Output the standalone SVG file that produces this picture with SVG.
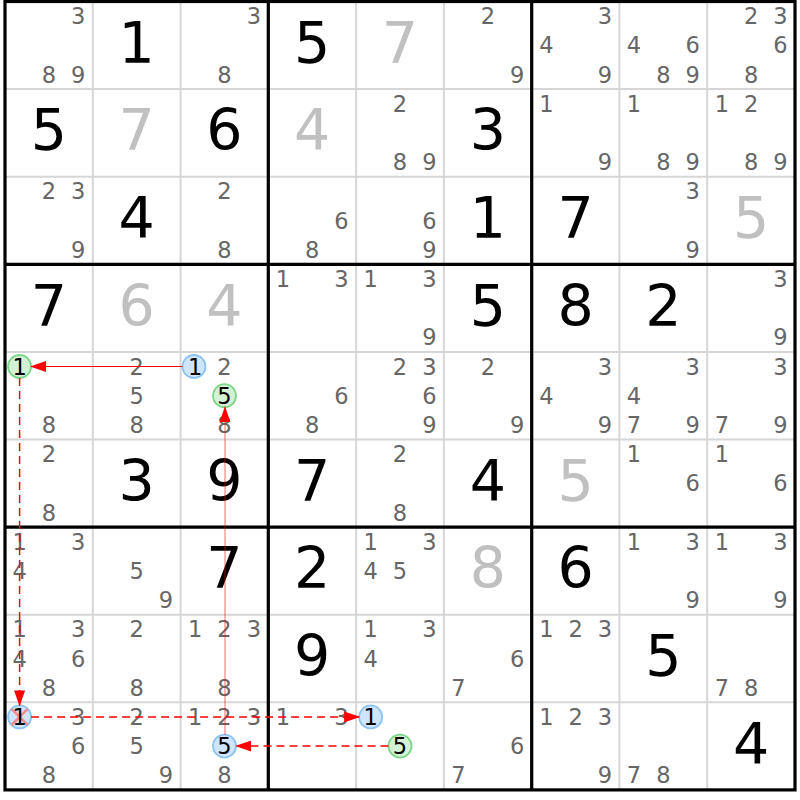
<svg xmlns="http://www.w3.org/2000/svg" width="800" height="800" viewBox="0 0 800 800">
<style>
text{font-family:"DejaVu Sans","Liberation Sans",sans-serif;text-anchor:middle}
.c{font-size:22.5px;fill:#666}
.k{font-size:22.5px;fill:#000}
.g{font-size:57px;fill:#000}
.s{font-size:57px;fill:#c0c0c0}
.thin{stroke:#d6d6d6;stroke-width:2}
.thick{stroke:#000;stroke-width:3.2}
.cb{fill:#cfe5fb;stroke:#8cc3f3;stroke-width:1.8}
.cg{fill:#d2f1d5;stroke:#7cd689;stroke-width:1.8}
.solid{stroke:#ff0000;stroke-width:1;fill:none}
.dash{stroke:#ff0000;stroke-width:1.5;stroke-dasharray:8 5;fill:none}
</style>
<defs>
<marker id="ah" markerUnits="userSpaceOnUse" markerWidth="16" markerHeight="11" refX="15" refY="5.5" orient="auto">
<path d="M0,0 L16,5.5 L0,11 z" fill="#ff0000"/>
</marker>
</defs>
<rect x="0" y="0" width="800" height="800" fill="#fff"/>
<g id="grid">
<g class="thin">
<line x1="92.8" y1="1.5" x2="92.8" y2="789.9"/>
<line x1="180.6" y1="1.5" x2="180.6" y2="789.9"/>
<line x1="356.1" y1="1.5" x2="356.1" y2="789.9"/>
<line x1="443.9" y1="1.5" x2="443.9" y2="789.9"/>
<line x1="619.4" y1="1.5" x2="619.4" y2="789.9"/>
<line x1="707.2" y1="1.5" x2="707.2" y2="789.9"/>
<line x1="5" y1="89.1" x2="795" y2="89.1"/>
<line x1="5" y1="176.7" x2="795" y2="176.7"/>
<line x1="5" y1="351.9" x2="795" y2="351.9"/>
<line x1="5" y1="439.5" x2="795" y2="439.5"/>
<line x1="5" y1="614.7" x2="795" y2="614.7"/>
<line x1="5" y1="702.3" x2="795" y2="702.3"/>
</g>
<g class="thick">
<line x1="268.3" y1="1.5" x2="268.3" y2="789.9"/>
<line x1="531.7" y1="1.5" x2="531.7" y2="789.9"/>
<line x1="5" y1="264.3" x2="795" y2="264.3"/>
<line x1="5" y1="527.1" x2="795" y2="527.1"/>
<rect x="5" y="1.5" width="790" height="788.4" fill="none"/>
</g>
</g>

<g id="row0">
<g id="r0c0"><text class="c" x="78.2" y="24.1">3</text><text class="c" x="48.9" y="82.5">8</text><text class="c" x="78.2" y="82.5">9</text></g>
<g id="r0c1"><text class="g" x="136.7" y="62.8">1</text></g>
<g id="r0c2"><text class="c" x="253.8" y="24.1">3</text><text class="c" x="224.5" y="82.5">8</text></g>
<g id="r0c3"><text class="g" x="312.2" y="62.8">5</text></g>
<g id="r0c4"><text class="s" x="400" y="62.8">7</text></g>
<g id="r0c5"><text class="c" x="487.8" y="24.1">2</text><text class="c" x="517.1" y="82.5">9</text></g>
<g id="r0c6"><text class="c" x="604.9" y="24.1">3</text><text class="c" x="546.3" y="53.3">4</text><text class="c" x="604.9" y="82.5">9</text></g>
<g id="r0c7"><text class="c" x="634" y="53.3">4</text><text class="c" x="692.6" y="53.3">6</text><text class="c" x="663.3" y="82.5">8</text><text class="c" x="692.6" y="82.5">9</text></g>
<g id="r0c8"><text class="c" x="751.1" y="24.1">2</text><text class="c" x="780.4" y="24.1">3</text><text class="c" x="780.4" y="53.3">6</text><text class="c" x="751.1" y="82.5">8</text></g>
</g>

<g id="row1">
<g id="r1c0"><text class="g" x="48.9" y="150.4">5</text></g>
<g id="r1c1"><text class="s" x="136.7" y="150.4">7</text></g>
<g id="r1c2"><text class="g" x="224.5" y="150.4">6</text></g>
<g id="r1c3"><text class="s" x="312.2" y="150.4">4</text></g>
<g id="r1c4"><text class="c" x="400" y="111.7">2</text><text class="c" x="400" y="170.1">8</text><text class="c" x="429.3" y="170.1">9</text></g>
<g id="r1c5"><text class="g" x="487.8" y="150.4">3</text></g>
<g id="r1c6"><text class="c" x="546.3" y="111.7">1</text><text class="c" x="604.9" y="170.1">9</text></g>
<g id="r1c7"><text class="c" x="634" y="111.7">1</text><text class="c" x="663.3" y="170.1">8</text><text class="c" x="692.6" y="170.1">9</text></g>
<g id="r1c8"><text class="c" x="721.8" y="111.7">1</text><text class="c" x="751.1" y="111.7">2</text><text class="c" x="751.1" y="170.1">8</text><text class="c" x="780.4" y="170.1">9</text></g>
</g>

<g id="row2">
<g id="r2c0"><text class="c" x="48.9" y="199.3">2</text><text class="c" x="78.2" y="199.3">3</text><text class="c" x="78.2" y="257.7">9</text></g>
<g id="r2c1"><text class="g" x="136.7" y="238">4</text></g>
<g id="r2c2"><text class="c" x="224.5" y="199.3">2</text><text class="c" x="224.5" y="257.7">8</text></g>
<g id="r2c3"><text class="c" x="341.5" y="228.5">6</text><text class="c" x="312.2" y="257.7">8</text></g>
<g id="r2c4"><text class="c" x="429.3" y="228.5">6</text><text class="c" x="429.3" y="257.7">9</text></g>
<g id="r2c5"><text class="g" x="487.8" y="238">1</text></g>
<g id="r2c6"><text class="g" x="575.6" y="238">7</text></g>
<g id="r2c7"><text class="c" x="692.6" y="199.3">3</text><text class="c" x="692.6" y="257.7">9</text></g>
<g id="r2c8"><text class="s" x="751.1" y="238">5</text></g>
</g>

<g id="row3">
<g id="r3c0"><text class="g" x="48.9" y="325.6">7</text></g>
<g id="r3c1"><text class="s" x="136.7" y="325.6">6</text></g>
<g id="r3c2"><text class="s" x="224.5" y="325.6">4</text></g>
<g id="r3c3"><text class="c" x="282.9" y="286.9">1</text><text class="c" x="341.5" y="286.9">3</text></g>
<g id="r3c4"><text class="c" x="370.7" y="286.9">1</text><text class="c" x="429.3" y="286.9">3</text><text class="c" x="429.3" y="345.3">9</text></g>
<g id="r3c5"><text class="g" x="487.8" y="325.6">5</text></g>
<g id="r3c6"><text class="g" x="575.6" y="325.6">8</text></g>
<g id="r3c7"><text class="g" x="663.3" y="325.6">2</text></g>
<g id="r3c8"><text class="c" x="780.4" y="286.9">3</text><text class="c" x="780.4" y="345.3">9</text></g>
</g>

<g id="row4">
<g id="r4c0"><circle class="cg" cx="19.6" cy="366.5" r="11.5"/><text class="k" x="19.6" y="374.5">1</text><text class="c" x="48.9" y="432.9">8</text></g>
<g id="r4c1"><text class="c" x="136.7" y="374.5">2</text><text class="c" x="136.7" y="403.7">5</text><text class="c" x="136.7" y="432.9">8</text></g>
<g id="r4c2"><circle class="cb" cx="194" cy="366.5" r="11.5"/><text class="k" x="195.2" y="374.5">1</text><text class="c" x="224.5" y="374.5">2</text><circle class="cg" cx="224.5" cy="395.7" r="11.5"/><text class="k" x="224.5" y="403.7">5</text><text class="c" x="224.5" y="432.9">8</text></g>
<g id="r4c3"><text class="c" x="341.5" y="403.7">6</text><text class="c" x="312.2" y="432.9">8</text></g>
<g id="r4c4"><text class="c" x="400" y="374.5">2</text><text class="c" x="429.3" y="374.5">3</text><text class="c" x="429.3" y="403.7">6</text><text class="c" x="429.3" y="432.9">9</text></g>
<g id="r4c5"><text class="c" x="487.8" y="374.5">2</text><text class="c" x="517.1" y="432.9">9</text></g>
<g id="r4c6"><text class="c" x="604.9" y="374.5">3</text><text class="c" x="546.3" y="403.7">4</text><text class="c" x="604.9" y="432.9">9</text></g>
<g id="r4c7"><text class="c" x="692.6" y="374.5">3</text><text class="c" x="634" y="403.7">4</text><text class="c" x="634" y="432.9">7</text><text class="c" x="692.6" y="432.9">9</text></g>
<g id="r4c8"><text class="c" x="780.4" y="374.5">3</text><text class="c" x="721.8" y="432.9">7</text><text class="c" x="780.4" y="432.9">9</text></g>
</g>

<g id="row5">
<g id="r5c0"><text class="c" x="48.9" y="462.1">2</text><text class="c" x="48.9" y="520.5">8</text></g>
<g id="r5c1"><text class="g" x="136.7" y="500.8">3</text></g>
<g id="r5c2"><text class="g" x="224.5" y="500.8">9</text></g>
<g id="r5c3"><text class="g" x="312.2" y="500.8">7</text></g>
<g id="r5c4"><text class="c" x="400" y="462.1">2</text><text class="c" x="400" y="520.5">8</text></g>
<g id="r5c5"><text class="g" x="487.8" y="500.8">4</text></g>
<g id="r5c6"><text class="s" x="575.6" y="500.8">5</text></g>
<g id="r5c7"><text class="c" x="634" y="462.1">1</text><text class="c" x="692.6" y="491.3">6</text></g>
<g id="r5c8"><text class="c" x="721.8" y="462.1">1</text><text class="c" x="780.4" y="491.3">6</text></g>
</g>

<g id="row6">
<g id="r6c0"><text class="c" x="19.6" y="549.7">1</text><text class="c" x="78.2" y="549.7">3</text><text class="c" x="19.6" y="578.9">4</text></g>
<g id="r6c1"><text class="c" x="136.7" y="578.9">5</text><text class="c" x="166" y="608.1">9</text></g>
<g id="r6c2"><text class="g" x="224.5" y="588.4">7</text></g>
<g id="r6c3"><text class="g" x="312.2" y="588.4">2</text></g>
<g id="r6c4"><text class="c" x="370.7" y="549.7">1</text><text class="c" x="429.3" y="549.7">3</text><text class="c" x="370.7" y="578.9">4</text><text class="c" x="400" y="578.9">5</text></g>
<g id="r6c5"><text class="s" x="487.8" y="588.4">8</text></g>
<g id="r6c6"><text class="g" x="575.6" y="588.4">6</text></g>
<g id="r6c7"><text class="c" x="634" y="549.7">1</text><text class="c" x="692.6" y="549.7">3</text><text class="c" x="692.6" y="608.1">9</text></g>
<g id="r6c8"><text class="c" x="721.8" y="549.7">1</text><text class="c" x="780.4" y="549.7">3</text><text class="c" x="780.4" y="608.1">9</text></g>
</g>

<g id="row7">
<g id="r7c0"><text class="c" x="19.6" y="637.3">1</text><text class="c" x="78.2" y="637.3">3</text><text class="c" x="19.6" y="666.5">4</text><text class="c" x="78.2" y="666.5">6</text><text class="c" x="48.9" y="695.7">8</text></g>
<g id="r7c1"><text class="c" x="136.7" y="637.3">2</text><text class="c" x="136.7" y="695.7">8</text></g>
<g id="r7c2"><text class="c" x="195.2" y="637.3">1</text><text class="c" x="224.5" y="637.3">2</text><text class="c" x="253.8" y="637.3">3</text><text class="c" x="224.5" y="695.7">8</text></g>
<g id="r7c3"><text class="g" x="312.2" y="676">9</text></g>
<g id="r7c4"><text class="c" x="370.7" y="637.3">1</text><text class="c" x="429.3" y="637.3">3</text><text class="c" x="370.7" y="666.5">4</text></g>
<g id="r7c5"><text class="c" x="517.1" y="666.5">6</text><text class="c" x="458.5" y="695.7">7</text></g>
<g id="r7c6"><text class="c" x="546.3" y="637.3">1</text><text class="c" x="575.6" y="637.3">2</text><text class="c" x="604.9" y="637.3">3</text></g>
<g id="r7c7"><text class="g" x="663.3" y="676">5</text></g>
<g id="r7c8"><text class="c" x="721.8" y="695.7">7</text><text class="c" x="751.1" y="695.7">8</text></g>
</g>

<g id="row8">
<g id="r8c0"><circle class="cb" cx="19.6" cy="716.9" r="11.5"/><path d="M11.5,708.8 L27.7,725 M27.7,708.8 L11.5,725" stroke="#f08c8c" stroke-width="2.5"/><text class="k" x="19.6" y="724.9">1</text><text class="c" x="78.2" y="724.9">3</text><text class="c" x="78.2" y="754.1">6</text><text class="c" x="48.9" y="783.3">8</text></g>
<g id="r8c1"><text class="c" x="136.7" y="724.9">2</text><text class="c" x="136.7" y="754.1">5</text><text class="c" x="166" y="783.3">9</text></g>
<g id="r8c2"><text class="c" x="195.2" y="724.9">1</text><text class="c" x="224.5" y="724.9">2</text><text class="c" x="253.8" y="724.9">3</text><circle class="cb" cx="224.5" cy="746.1" r="11.5"/><text class="k" x="224.5" y="754.1">5</text><text class="c" x="224.5" y="783.3">8</text></g>
<g id="r8c3"><text class="c" x="282.9" y="724.9">1</text><text class="c" x="341.5" y="724.9">3</text></g>
<g id="r8c4"><circle class="cb" cx="370.7" cy="716.9" r="11.5"/><text class="k" x="370.7" y="724.9">1</text><circle class="cg" cx="400" cy="746.1" r="11.5"/><text class="k" x="400" y="754.1">5</text></g>
<g id="r8c5"><text class="c" x="517.1" y="754.1">6</text><text class="c" x="458.5" y="783.3">7</text></g>
<g id="r8c6"><text class="c" x="546.3" y="724.9">1</text><text class="c" x="575.6" y="724.9">2</text><text class="c" x="604.9" y="724.9">3</text><text class="c" x="604.9" y="783.3">9</text></g>
<g id="r8c7"><text class="c" x="634" y="783.3">7</text><text class="c" x="663.3" y="783.3">8</text></g>
<g id="r8c8"><text class="g" x="751.1" y="763.6">4</text></g>
</g>

<g id="connectors">
<line class="solid" x1="182.5" y1="366.5" x2="31" y2="366.5" marker-end="url(#ah)"/>
<line class="dash" x1="19.6" y1="378" x2="19.6" y2="705.4" marker-end="url(#ah)"/>
<line class="dash" x1="31.1" y1="716.9" x2="359.2" y2="716.9" marker-end="url(#ah)"/>
<line class="dash" x1="388.5" y1="746.1" x2="236" y2="746.1" marker-end="url(#ah)"/>
<line class="solid" x1="225" y1="734.6" x2="225" y2="407.2" marker-end="url(#ah)" stroke-opacity="0.6" stroke-width="1.5"/>
</g>
</svg>
